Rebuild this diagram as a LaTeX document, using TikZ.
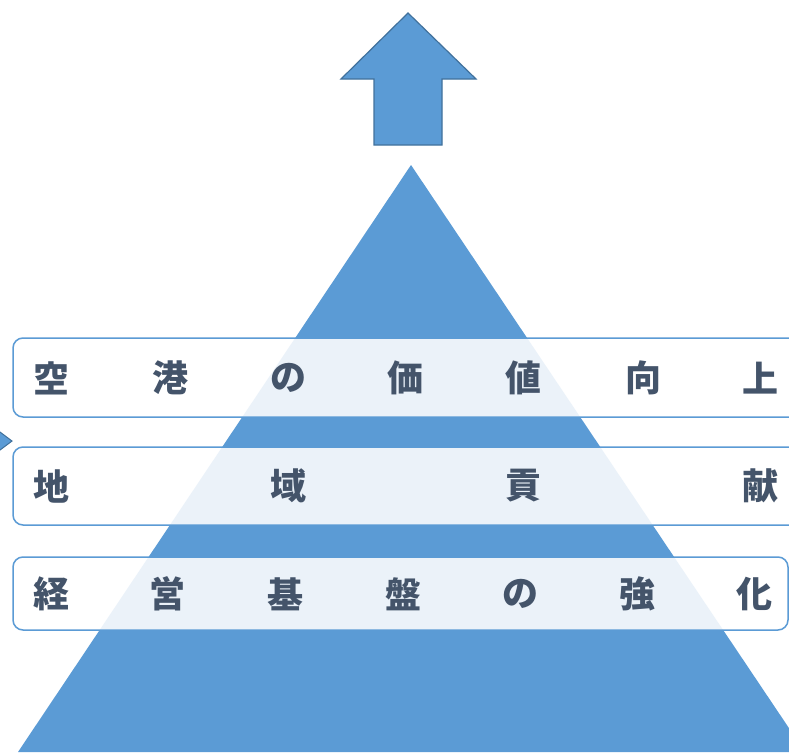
\documentclass[tikz,border=0pt]{standalone}
\usepackage{fontspec}
\newfontfamily\cjk{Noto Sans CJK JP}
\definecolor{tblue}{HTML}{5B9BD5}
\definecolor{tedge}{HTML}{41719C}
\definecolor{ttext}{HTML}{44546A}
\begin{document}
\begin{tikzpicture}[x=1pt,y=-1pt,
  bar/.style={draw=tblue,line width=1.5pt,fill=white,fill opacity=0.88,rounded corners=10pt},
  ch/.style={text=ttext,font=\cjk\bfseries\fontsize{36}{36}\selectfont,inner sep=0pt,anchor=center}]
\useasboundingbox (0,0) rectangle (789,752);
\clip (0,0) rectangle (789,752);
\fill[white] (0,0) rectangle (789,752);
% pyramid
\fill[tblue] (411,165) -- (18,752) -- (805,752) -- cycle;
% up arrow
\draw[fill=tblue,draw=tedge,line width=1.2pt,line join=miter]
  (408,13) -- (476,79) -- (442,79) -- (442,145) -- (374,145) -- (374,79) -- (341,79) -- cycle;
% small clipped arrow tip at left
\draw[fill=tblue,draw=tedge,line width=1pt] (-8,426) -- (12,441) -- (-8,456) -- cycle;
% bars
\draw[bar] (13,338) rectangle (815,417);
\draw[bar] (13,447) rectangle (815,525);
\draw[bar] (13,557) rectangle (788,630);
% texts
\foreach \c/\x [count=\i] in {空/51,港/170,の/288,価/405,値/523,向/643,上/760}
  \node[ch] (a\i) at (\x,378) {\c};
\foreach \c/\x [count=\i] in {地/51,域/288,貢/523,献/760}
  \node[ch] (b\i) at (\x,486) {\c};
\foreach \c/\x [count=\i] in {経/51,営/167,基/285,盤/403,の/520,強/637,化/754}
  \node[ch] (c\i) at (\x,594) {\c};
\end{tikzpicture}
\end{document}
